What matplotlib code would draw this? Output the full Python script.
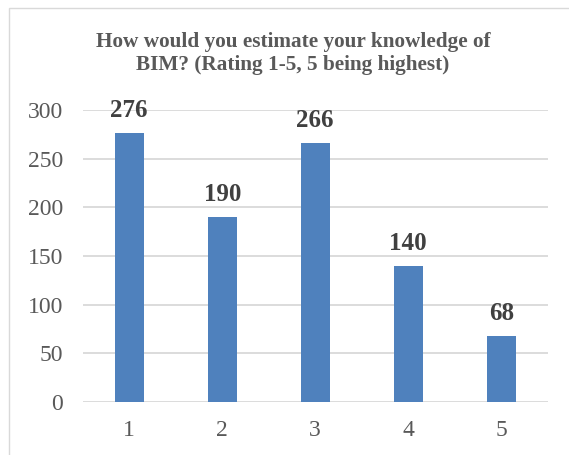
import matplotlib
matplotlib.use("Agg")
import matplotlib.pyplot as plt
from matplotlib.patches import Rectangle

# === Data ===
ratings = ["1", "2", "3", "4", "5"]
counts = [276, 190, 266, 140, 68]
y_ticks = [0, 50, 100, 150, 200, 250, 300]
title_lines = ["How would you estimate your knowledge of",
               "BIM? (Rating 1-5, 5 being highest)"]

W, H = 569, 455
plt.rcParams["font.family"] = ["Liberation Serif", "DejaVu Serif"]

fig = plt.figure(figsize=(W / 100, H / 100), dpi=100)
ax = fig.add_axes([82.7 / W, (H - 402) / H, 465 / W, 292 / H])

# chart frame (cropped at right/bottom)
fig.patches.append(Rectangle((9 / W, -0.1), 1.2, 1 - 8 / H + 0.1,
                             transform=fig.transFigure, fill=False,
                             edgecolor="#D9D9D9", linewidth=1.0))

x = range(len(ratings))
ax.bar(x, counts, width=0.315, color="#4F81BD", zorder=3)

for xi, v in zip(x, counts):
    ax.annotate(str(v), (xi, v), xytext=(0, 11.5), textcoords="offset points",
                ha="center", va="baseline", fontsize=18, fontweight="bold",
                color="#404040")

ax.set_xlim(-0.5, len(ratings) - 0.5)
ax.set_ylim(0, 300)
ax.set_xticks(list(x))
ax.set_xticklabels(ratings)
ax.set_yticks(y_ticks)
ax.yaxis.grid(True, color="#D9D9D9", linewidth=1.3, zorder=0)
ax.tick_params(axis="both", length=0, labelsize=17, colors="#595959")
ax.tick_params(axis="y", pad=14)
ax.tick_params(axis="x", pad=13)
for s in ax.spines.values():
    s.set_visible(False)

# title, one line each
for line, yb in zip(title_lines, [47.5, 70]):
    fig.text(293 / W, 1 - yb / H, line, ha="center", va="baseline",
             fontsize=15.3, fontweight="bold", color="#595959")

fig.savefig("out.png", dpi=100)
